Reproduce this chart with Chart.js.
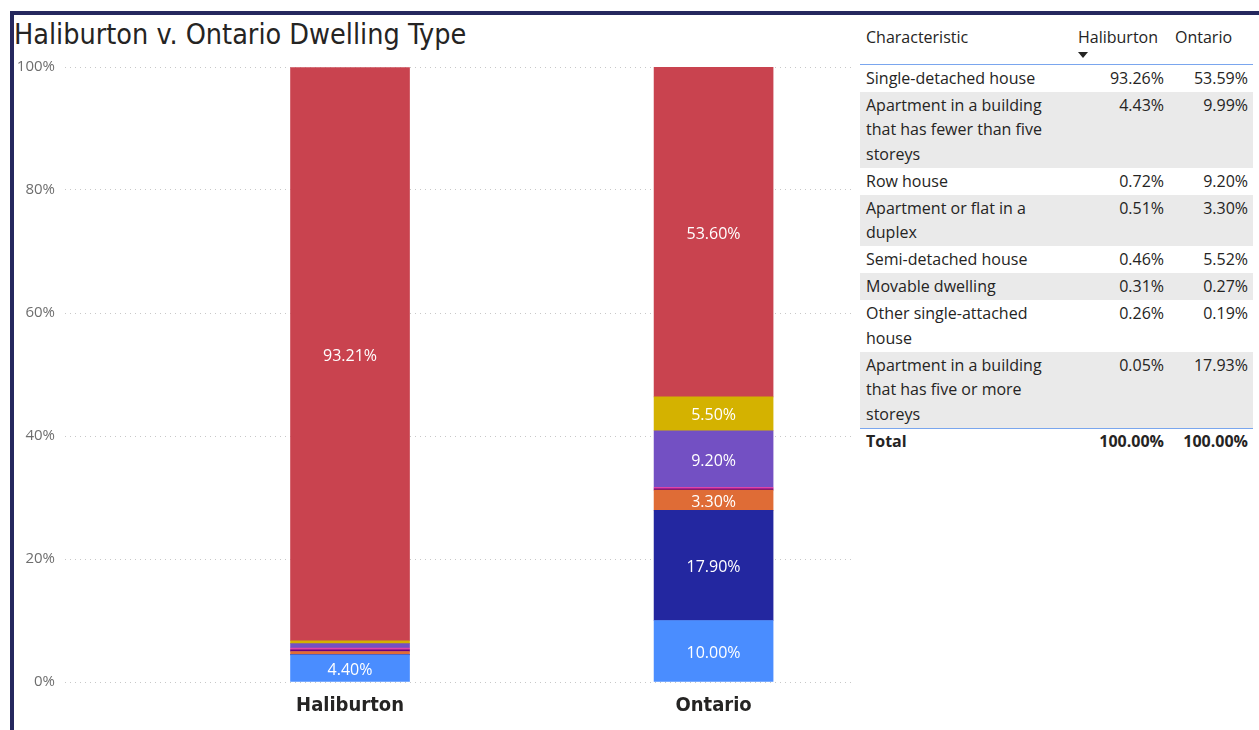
<!DOCTYPE html>
<html>
<head>
<meta charset="utf-8">
<title>Haliburton v. Ontario Dwelling Type</title>
<script src="https://cdn.jsdelivr.net/npm/chart.js@4/dist/chart.umd.min.js"></script>
<style>
  html, body { margin: 0; padding: 0; background: #fff; }
  body { width: 1259px; height: 730px; position: relative; overflow: hidden; }
  .frame {
    position: absolute; left: 10px; top: 11px; right: 0; bottom: 0;
    border-top: 4px solid #25285e; border-left: 4px solid #25285e;
  }
  .title {
    position: absolute; left: 14px; top: 18px;
    font: 28.5px "DejaVu Sans Condensed", sans-serif; color: #252423;
    white-space: nowrap;
  }
  .chart-box { position: absolute; left: 0; top: 0; width: 860px; height: 730px; }
  table.matrix {
    position: absolute; left: 860px; top: 22px; width: 393px;
    border-collapse: collapse; table-layout: fixed;
    font: 16px "Open Sans", sans-serif; color: #252423;
  }
  table.matrix td, table.matrix th {
    vertical-align: top; line-height: 24.5px; padding: 1px 6px 1.5px 6px;
    font-weight: normal; text-align: right;
  }
  table.matrix td:first-child, table.matrix th:first-child { text-align: left; }
  table.matrix thead th { height: 37px; padding-top: 3px; text-align: left; border-bottom: 1px solid #7aa6ee; }
  table.matrix thead th.c2 { padding-left: 8px; }
  table.matrix thead th.c3 { padding-left: 5px; }
  table.matrix td.c3 { padding-right: 5px; }
  table.matrix tbody tr:nth-child(even) td { background: #eaeaea; }
  table.matrix tfoot td { font-weight: bold; border-top: 1px solid #7aa6ee; padding-top: 0; }
  .sort-arrow {
    position: absolute; left: 1078px; top: 52px; width: 0; height: 0;
    border-left: 5px solid transparent; border-right: 5px solid transparent;
    border-top: 6px solid #252423;
  }
</style>
</head>
<body>
<div class="frame"></div>
<div class="title">Haliburton v. Ontario Dwelling Type</div>
<div class="chart-box"><canvas id="dwellingChart"></canvas></div>
<table class="matrix" id="matrix">
  <colgroup><col style="width:210px"><col style="width:100px"><col style="width:83px"></colgroup>
  <thead><tr><th>Characteristic</th><th class="c2">Haliburton</th><th class="c3">Ontario</th></tr></thead>
  <tbody></tbody>
  <tfoot></tfoot>
</table>
<div class="sort-arrow"></div>
<script>
// Regions shown as columns
const regions = ['Haliburton', 'Ontario'];

// Dwelling types in stacking order (bottom to top)
const dwellingTypes = [
  'Apartment in a building that has fewer than five storeys',
  'Apartment in a building that has five or more storeys',
  'Apartment or flat in a duplex',
  'Other single-attached house',
  'Movable dwelling',
  'Row house',
  'Semi-detached house',
  'Single-detached house'
];

// Share of dwellings (%) per type, same order as dwellingTypes
const haliburtonShares = [4.40, 0.05, 0.51, 0.26, 0.31, 0.72, 0.46, 93.21];
const ontarioShares    = [10.00, 17.90, 3.30, 0.19, 0.27, 9.20, 5.50, 53.60];

// Series colours, same order as dwellingTypes
const seriesColors = ['#4a8dff', '#2327a0', '#df6c36', '#6b007b', '#e044a7', '#7350c3', '#d4b200', '#c9434f'];

// Value axis ticks (%)
const yTicks = [0, 20, 40, 60, 80, 100];

// Side table: characteristics and their shares (%)
const tableRows = [
  'Single-detached house',
  'Apartment in a building that has fewer than five storeys',
  'Row house',
  'Apartment or flat in a duplex',
  'Semi-detached house',
  'Movable dwelling',
  'Other single-attached house',
  'Apartment in a building that has five or more storeys'
];
const tableHaliburton = [93.26, 4.43, 0.72, 0.51, 0.46, 0.31, 0.26, 0.05];
const tableOntario    = [53.59, 9.99, 9.20, 3.30, 5.52, 0.27, 0.19, 17.93];
const tableTotals     = [100.00, 100.00];

// Build the table body and total row
const tbody = document.querySelector('#matrix tbody');
tableRows.forEach((name, i) => {
  const tr = document.createElement('tr');
  tr.innerHTML = '<td>' + name + '</td><td class="c2">' + tableHaliburton[i].toFixed(2) +
    '%</td><td class="c3">' + tableOntario[i].toFixed(2) + '%</td>';
  tbody.appendChild(tr);
});
document.querySelector('#matrix tfoot').innerHTML =
  '<tr><td>Total</td><td class="c2">' + tableTotals[0].toFixed(2) + '%</td><td class="c3">' +
  tableTotals[1].toFixed(2) + '%</td></tr>';

// Stacked datasets, one per dwelling type
const datasets = dwellingTypes.map((name, i) => ({
  label: name,
  data: [
    { x: 0, y: haliburtonShares[i] },
    { x: 1, y: ontarioShares[i] }
  ],
  backgroundColor: seriesColors[i],
  borderWidth: 0,
  barThickness: 119
}));

// White percentage labels inside segments tall enough to hold them
const segmentLabels = {
  id: 'segmentLabels',
  afterDatasetsDraw(chart) {
    const ctx = chart.ctx;
    ctx.save();
    ctx.font = '16px "Open Sans", sans-serif';
    ctx.fillStyle = '#ffffff';
    ctx.textAlign = 'center';
    ctx.textBaseline = 'middle';
    chart.data.datasets.forEach((ds, i) => {
      const meta = chart.getDatasetMeta(i);
      meta.data.forEach((bar, j) => {
        const v = ds.data[j].y;
        if (v < 3) return;
        const p = bar.getProps(['x', 'y', 'base'], true);
        ctx.fillText(v.toFixed(2) + '%', p.x, (p.y + p.base) / 2 + 2);
      });
    });
    ctx.restore();
  }
};

new Chart(document.getElementById('dwellingChart'), {
  type: 'bar',
  data: { datasets },
  plugins: [segmentLabels],
  options: {
    responsive: true,
    maintainAspectRatio: false,
    animation: false,
    events: [],
    layout: { padding: { left: 0, top: 67, right: 5, bottom: 0 } },
    plugins: { legend: { display: false }, tooltip: { enabled: false }, title: { display: false } },
    scales: {
      x: {
        type: 'linear',
        stacked: true,
        offset: false,
        min: -0.784,
        max: 1.389,
        afterBuildTicks: (scale) => { scale.ticks = regions.map((_, i) => ({ value: i })); },
        afterFit: (scale) => { scale.height = 48; },
        grid: { display: false, drawTicks: false, offset: false },
        border: { display: false },
        ticks: {
          padding: 12,
          autoSkip: false,
          maxRotation: 0,
          color: '#252423',
          font: { family: '"DejaVu Sans Condensed", sans-serif', size: 20, weight: 'bold' },
          callback: (value) => regions[value] ?? ''
        }
      },
      y: {
        stacked: true,
        min: 0,
        max: 100,
        afterBuildTicks: (scale) => { scale.ticks = yTicks.map(v => ({ value: v })); },
        afterFit: (scale) => { scale.width = 65; },
        grid: { color: '#c8c8c8', lineWidth: 1, drawTicks: false },
        border: { display: false, dash: [1, 4] },
        ticks: {
          padding: 10,
          color: '#6e6e6e',
          font: { family: '"Open Sans", sans-serif', size: 15 },
          callback: (value) => value + '%'
        }
      }
    }
  }
});
</script>
</body>
</html>
